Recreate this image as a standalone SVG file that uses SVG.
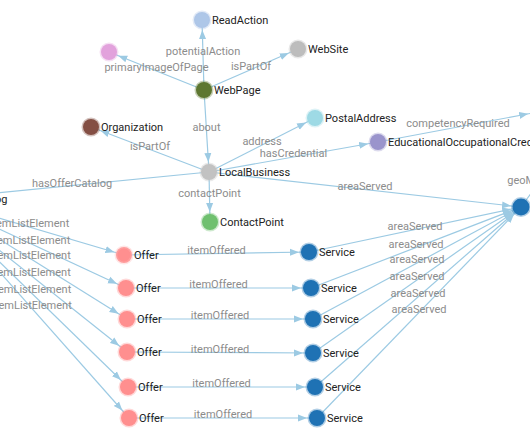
<svg xmlns="http://www.w3.org/2000/svg" width="530" height="442" viewBox="0 0 530 442">
<style>
.e{stroke:#9ccae3;stroke-width:1.2;fill:none;marker-end:url(#arr)}
.el{font-family:Roboto,"Liberation Sans",sans-serif;font-size:11px;fill:#8c8c8c;text-anchor:middle}
.nl{font-family:Roboto,"Liberation Sans",sans-serif;font-size:11px;fill:#222}
.n circle{stroke-width:3;stroke-opacity:.35}
</style>
<defs>
<marker id="arr" viewBox="0 -4 10 8" refX="19" refY="0" markerWidth="10" markerHeight="8" markerUnits="userSpaceOnUse" orient="auto"><path d="M0,-3.5L9,0L0,3.5Z" fill="#9ccae3"/></marker>
</defs>
<rect width="530" height="442" fill="#fff"/>
<g id="connectors">
<line class="e" x1="204" y1="90" x2="202" y2="20"/>
<line class="e" x1="204" y1="90" x2="109" y2="52"/>
<line class="e" x1="204" y1="90" x2="298" y2="49"/>
<line class="e" x1="204" y1="90" x2="209" y2="172"/>
<line class="e" x1="209" y1="172" x2="91" y2="127"/>
<line class="e" x1="209" y1="172" x2="315" y2="118"/>
<line class="e" x1="209" y1="172" x2="378" y2="142"/>
<line class="e" x1="209" y1="172" x2="-65" y2="199"/>
<line class="e" x1="209" y1="172" x2="210" y2="222"/>
<line class="e" x1="209" y1="172" x2="521" y2="207"/>
<line class="e" x1="378" y1="142" x2="538" y2="112"/>
<line class="e" x1="521" y1="207" x2="555" y2="161"/>
<line class="e" x1="-65" y1="199" x2="124" y2="255"/>
<line class="e" x1="-65" y1="199" x2="126" y2="288"/>
<line class="e" x1="-65" y1="199" x2="127" y2="319"/>
<line class="e" x1="-65" y1="199" x2="127" y2="352"/>
<line class="e" x1="-65" y1="199" x2="128" y2="387"/>
<line class="e" x1="-65" y1="199" x2="129" y2="418"/>
<line class="e" x1="124" y1="255" x2="309" y2="252"/>
<line class="e" x1="126" y1="288" x2="311" y2="288"/>
<line class="e" x1="127" y1="319" x2="313" y2="319"/>
<line class="e" x1="127" y1="352" x2="313" y2="353"/>
<line class="e" x1="128" y1="387" x2="315" y2="387"/>
<line class="e" x1="129" y1="418" x2="317" y2="418"/>
<line class="e" x1="309" y1="252" x2="521" y2="207"/>
<line class="e" x1="311" y1="288" x2="521" y2="207"/>
<line class="e" x1="313" y1="319" x2="521" y2="207"/>
<line class="e" x1="313" y1="353" x2="521" y2="207"/>
<line class="e" x1="315" y1="387" x2="521" y2="207"/>
<line class="e" x1="317" y1="418" x2="521" y2="207"/>
<text class="el" x="203" y="55">potentialAction</text>
<text class="el" x="156.5" y="71">primaryImageOfPage</text>
<text class="el" x="251" y="69.5">isPartOf</text>
<text class="el" x="206.5" y="131">about</text>
<text class="el" x="150" y="149.5">isPartOf</text>
<text class="el" x="262" y="145">address</text>
<text class="el" x="293.5" y="157">hasCredential</text>
<text class="el" x="72" y="186.5">hasOfferCatalog</text>
<text class="el" x="209.5" y="197">contactPoint</text>
<text class="el" x="365" y="189.5">areaServed</text>
<text class="el" x="458" y="127">competencyRequired</text>
<text class="el" x="538" y="184">geoMidpoint</text>
<text class="el" x="29.5" y="227">itemListElement</text>
<text class="el" x="30.5" y="243.5">itemListElement</text>
<text class="el" x="31" y="259">itemListElement</text>
<text class="el" x="31" y="275.5">itemListElement</text>
<text class="el" x="31.5" y="293">itemListElement</text>
<text class="el" x="32" y="308.5">itemListElement</text>
<text class="el" x="216.5" y="253.5">itemOffered</text>
<text class="el" x="218.5" y="288">itemOffered</text>
<text class="el" x="220" y="319">itemOffered</text>
<text class="el" x="220" y="352.5">itemOffered</text>
<text class="el" x="221.5" y="387">itemOffered</text>
<text class="el" x="223" y="418">itemOffered</text>
<text class="el" x="415" y="229.5">areaServed</text>
<text class="el" x="416" y="247.5">areaServed</text>
<text class="el" x="417" y="263">areaServed</text>
<text class="el" x="417" y="280">areaServed</text>
<text class="el" x="418" y="297">areaServed</text>
<text class="el" x="419" y="312.5">areaServed</text>
</g>
<g id="ReadAction" class="n"><circle cx="202" cy="20" r="8" fill="#aec7e8" stroke="#aec7e8"/><text class="nl" x="212" y="24">ReadAction</text></g>
<g id="ImageObject" class="n"><circle cx="109" cy="52" r="8" fill="#e2a2dc" stroke="#e2a2dc"/></g>
<g id="WebSite" class="n"><circle cx="298" cy="49" r="8" fill="#bdbdbd" stroke="#bdbdbd"/><text class="nl" x="308" y="53">WebSite</text></g>
<g id="WebPage" class="n"><circle cx="204" cy="90" r="8" fill="#5e7731" stroke="#5e7731"/><text class="nl" x="214" y="94">WebPage</text></g>
<g id="Organization" class="n"><circle cx="91" cy="127" r="8" fill="#844f44" stroke="#844f44"/><text class="nl" x="101" y="131">Organization</text></g>
<g id="PostalAddress" class="n"><circle cx="315" cy="118" r="8" fill="#9edae5" stroke="#9edae5"/><text class="nl" x="325" y="122">PostalAddress</text></g>
<g id="EducationalOccupationalCredential" class="n"><circle cx="378" cy="142" r="8" fill="#9a94cc" stroke="#9a94cc"/><text class="nl" x="388" y="146">EducationalOccupationalCredential</text></g>
<g id="LocalBusiness" class="n"><circle cx="209" cy="172" r="8" fill="#c2c2c2" stroke="#c2c2c2"/><text class="nl" x="219" y="176">LocalBusiness</text></g>
<g id="ContactPoint" class="n"><circle cx="210" cy="222" r="8" fill="#6fc06f" stroke="#6fc06f"/><text class="nl" x="220" y="226">ContactPoint</text></g>
<g id="OfferCatalog" class="n"><circle cx="-65" cy="199" r="8" fill="#c5b0d5" stroke="#c5b0d5"/><text class="nl" x="-55" y="203">OfferCatalog</text></g>
<g id="GeoCircle" class="n"><circle cx="521" cy="207" r="8.5" fill="#1f72b4" stroke="#1f72b4"/></g>
<g id="Offer1" class="n"><circle cx="124" cy="255" r="8" fill="#ff8f8f" stroke="#ffb8b8" stroke-width="5" stroke-opacity=".6"/><text class="nl" x="134" y="259">Offer</text></g>
<g id="Offer2" class="n"><circle cx="126" cy="288" r="8" fill="#ff8f8f" stroke="#ff8f8f"/><text class="nl" x="136" y="292">Offer</text></g>
<g id="Offer3" class="n"><circle cx="127" cy="319" r="8" fill="#ff8f8f" stroke="#ff8f8f"/><text class="nl" x="137" y="323">Offer</text></g>
<g id="Offer4" class="n"><circle cx="127" cy="352" r="8" fill="#ff8f8f" stroke="#ff8f8f"/><text class="nl" x="137" y="356">Offer</text></g>
<g id="Offer5" class="n"><circle cx="128" cy="387" r="8" fill="#ff8f8f" stroke="#ff8f8f"/><text class="nl" x="138" y="391">Offer</text></g>
<g id="Offer6" class="n"><circle cx="129" cy="418" r="8" fill="#ff8f8f" stroke="#ff8f8f"/><text class="nl" x="139" y="422">Offer</text></g>
<g id="Service1" class="n"><circle cx="309" cy="252" r="8" fill="#1f72b4" stroke="#1f72b4"/><text class="nl" x="319" y="256">Service</text></g>
<g id="Service2" class="n"><circle cx="311" cy="288" r="8" fill="#1f72b4" stroke="#1f72b4"/><text class="nl" x="321" y="292">Service</text></g>
<g id="Service3" class="n"><circle cx="313" cy="319" r="8" fill="#1f72b4" stroke="#1f72b4"/><text class="nl" x="323" y="323">Service</text></g>
<g id="Service4" class="n"><circle cx="313" cy="353" r="8" fill="#1f72b4" stroke="#1f72b4"/><text class="nl" x="323" y="357">Service</text></g>
<g id="Service5" class="n"><circle cx="315" cy="387" r="8" fill="#1f72b4" stroke="#1f72b4"/><text class="nl" x="325" y="391">Service</text></g>
<g id="Service6" class="n"><circle cx="317" cy="418" r="8" fill="#1f72b4" stroke="#1f72b4"/><text class="nl" x="327" y="422">Service</text></g>
</svg>
